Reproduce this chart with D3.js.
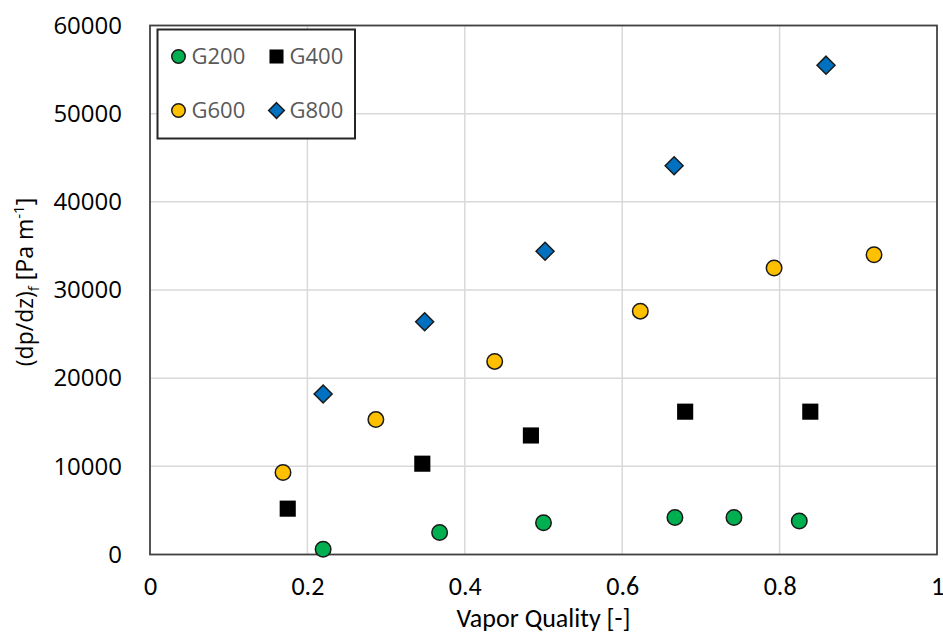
<!DOCTYPE html>
<html>
<head>
<meta charset="utf-8">
<script src="https://cdn.jsdelivr.net/npm/d3@7"></script>
<style>
  body { margin: 0; background: #fff; }
  svg { display: block; }
</style>
</head>
<body>
<div id="chart"></div>
<script>
// data
var g200X = [0.220, 0.368, 0.500, 0.667, 0.742, 0.825];
var g200Y = [600, 2500, 3600, 4200, 4200, 3800];
var g400X = [0.175, 0.346, 0.484, 0.680, 0.839];
var g400Y = [5200, 10300, 13500, 16200, 16200];
var g600X = [0.169, 0.287, 0.438, 0.623, 0.793, 0.920];
var g600Y = [9300, 15300, 21900, 27600, 32500, 34000];
var g800X = [0.220, 0.349, 0.502, 0.666, 0.859];
var g800Y = [18200, 26400, 34400, 44100, 55500];

var xTicks = [0, 0.2, 0.4, 0.6, 0.8, 1];
var yTicks = [0, 10000, 20000, 30000, 40000, 50000, 60000];

var series = [
  {name: "G200", xs: g200X, ys: g200Y, shape: "circle", color: "#00b050"},
  {name: "G400", xs: g400X, ys: g400Y, shape: "square", color: "#000000"},
  {name: "G600", xs: g600X, ys: g600Y, shape: "circle", color: "#ffc000"},
  {name: "G800", xs: g800X, ys: g800Y, shape: "diamond", color: "#0070c0"}
];

// set the dimensions and margins of the graph
var margin = {top: 25.5, right: 6, bottom: 78.5, left: 150},
    width = 943 - margin.left - margin.right,
    height = 633 - margin.top - margin.bottom;

var x = d3.scaleLinear().domain([0, 1]).range([0, width]);
var y = d3.scaleLinear().domain([0, 60000]).range([height, 0]);

var svg = d3.select("#chart").append("svg")
    .attr("width", 943)
    .attr("height", 633)
  .append("g")
    .attr("transform", "translate(" + margin.left + "," + margin.top + ")");

// gridlines
svg.append("g")
    .selectAll("line")
    .data(yTicks)
    .enter().append("line")
    .attr("x1", 0).attr("x2", width)
    .attr("y1", function(d) { return y(d); })
    .attr("y2", function(d) { return y(d); })
    .attr("stroke", "#d9d9d9")
    .attr("stroke-width", 1.5);

svg.append("g")
    .selectAll("line")
    .data(xTicks)
    .enter().append("line")
    .attr("y1", 0).attr("y2", height)
    .attr("x1", function(d) { return x(d); })
    .attr("x2", function(d) { return x(d); })
    .attr("stroke", "#d9d9d9")
    .attr("stroke-width", 1.5);

// plot border
svg.append("rect")
    .attr("width", width)
    .attr("height", height)
    .attr("fill", "none")
    .attr("stroke", "#404040")
    .attr("stroke-width", 1.75);

// axes (labels only)
var xAxis = svg.append("g")
    .attr("transform", "translate(0," + height + ")")
    .call(d3.axisBottom(x).tickValues(xTicks).tickSize(0).tickPadding(22)
        .tickFormat(function(d) { return d === 0 || d === 1 ? d3.format("d")(d) : d3.format(".1f")(d); }));
xAxis.select(".domain").remove();
xAxis.selectAll("text")
    .style("font-family", "Carlito, Calibri, Lato, sans-serif")
    .style("font-size", "26px")
    .attr("fill", "#000");

var yAxis = svg.append("g")
    .call(d3.axisLeft(y).tickValues(yTicks).tickSize(0).tickPadding(28)
        .tickFormat(d3.format("d")));
yAxis.select(".domain").remove();
yAxis.selectAll("text")
    .style("font-family", "'Open Sans', sans-serif")
    .style("font-size", "24px")
    .attr("fill", "#000");

// markers
function drawMarker(g, shape, color, size) {
  if (shape === "circle") {
    g.append("circle").attr("r", size * 0.5)
        .attr("fill", color).attr("stroke", "#1a1a1a").attr("stroke-width", 1.5);
  } else if (shape === "square") {
    g.append("rect").attr("x", -size * 0.52).attr("y", -size * 0.52)
        .attr("width", size * 1.04).attr("height", size * 1.04)
        .attr("fill", color);
  } else {
    var h = size * 0.58;
    g.append("path").attr("d", "M0," + (-h) + "L" + h + ",0L0," + h + "L" + (-h) + ",0Z")
        .attr("fill", color).attr("stroke", "#1a1a1a").attr("stroke-width", 1.5);
  }
}

series.forEach(function(s) {
  var pts = s.xs.map(function(v, i) { return [v, s.ys[i]]; });
  svg.append("g").selectAll("g")
      .data(pts)
      .enter().append("g")
      .attr("transform", function(d) { return "translate(" + x(d[0]) + "," + y(d[1]) + ")"; })
      .each(function() { drawMarker(d3.select(this), s.shape, s.color, 15.5); });
});

// legend
var legend = svg.append("g").attr("transform", "translate(" + (157.5 - margin.left) + "," + (29.5 - margin.top) + ")");
legend.append("rect")
    .attr("width", 197.5)
    .attr("height", 109)
    .attr("fill", "#fff")
    .attr("stroke", "#262626")
    .attr("stroke-width", 2);

var legendPos = [[21, 27], [119, 27], [21, 81], [119, 81]];
series.forEach(function(s, i) {
  var item = legend.append("g")
      .attr("transform", "translate(" + legendPos[i][0] + "," + legendPos[i][1] + ")");
  drawMarker(item.append("g"), s.shape, s.color, 13.5);
  item.append("text")
      .attr("x", 13)
      .attr("dy", "0.36em")
      .style("font-family", "'Open Sans', sans-serif")
      .style("font-size", "22px")
      .attr("fill", "#595959")
      .text(s.name);
});

// Y-Axis Label
var yLab = svg.append("text")
    .attr("transform", "rotate(-90)")
    .attr("x", 0 - (height / 2) + 8)
    .attr("y", 0 - margin.left + 33)
    .style("text-anchor", "middle")
    .style("font-family", "'Open Sans', sans-serif")
    .style("font-size", "23px")
    .attr("fill", "#000");
yLab.append("tspan").text("(dp/dz)");
yLab.append("tspan").attr("dy", 6).style("font-size", "15px").text("f");
yLab.append("tspan").attr("dy", -6).text("  [Pa m");
yLab.append("tspan").attr("dy", -9).style("font-size", "15px").text("-1");
yLab.append("tspan").attr("dy", 9).text("]");

// X-Axis Label
svg.append("text")
    .attr("x", width / 2)
    .attr("y", height + 72)
    .style("text-anchor", "middle")
    .style("font-family", "Carlito, Calibri, Lato, sans-serif")
    .style("font-size", "26px")
    .attr("fill", "#000")
    .text("Vapor Quality [-]");
</script>
</body>
</html>
